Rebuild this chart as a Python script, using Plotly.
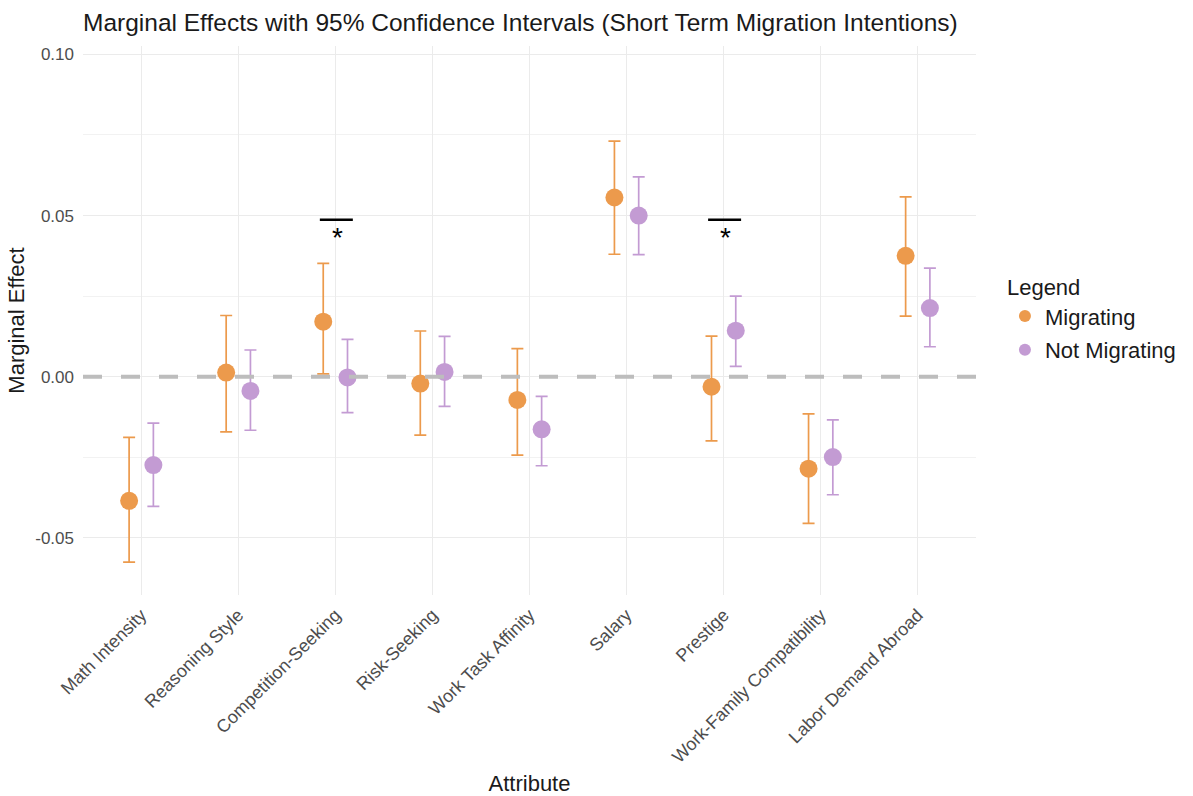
import plotly.graph_objects as go

categories = ["Math Intensity", "Reasoning Style", "Competition-Seeking", "Risk-Seeking",
              "Work Task Affinity", "Salary", "Prestige", "Work-Family Compatibility",
              "Labor Demand Abroad"]

mig_est   = [-0.0385, 0.0013, 0.0171, -0.0021, -0.0072, 0.0556, -0.0031, -0.0285, 0.0375]
mig_lower = [-0.0575, -0.0171, 0.0009, -0.0181, -0.0243, 0.0380, -0.0199, -0.0455, 0.0188]
mig_upper = [-0.0188, 0.0190, 0.0352, 0.0142, 0.0087, 0.0731, 0.0126, -0.0115, 0.0558]

not_est   = [-0.0274, -0.0044, -0.0002, 0.0015, -0.0163, 0.0500, 0.0143, -0.0249, 0.0213]
not_lower = [-0.0402, -0.0166, -0.0111, -0.0092, -0.0276, 0.0379, 0.0032, -0.0366, 0.0093]
not_upper = [-0.0144, 0.0083, 0.0116, 0.0125, -0.0061, 0.0620, 0.0250, -0.0134, 0.0337]

sig_categories = ["Competition-Seeking", "Prestige"]
sig_bar_y = 0.0487
sig_star_y = 0.0432

ORANGE = "#EC9A4C"
PURPLE = "#C39BD3"
FONT = "Liberation Sans, Arial, sans-serif"

xpos = list(range(1, len(categories) + 1))
dodge = 0.125

fig = go.Figure()

def add_series(name, est, lo, hi, color, off):
    fig.add_trace(go.Scatter(
        x=[p + off for p in xpos], y=est, mode="markers", name=name, legendgroup=name,
        marker=dict(color=color, size=18, line=dict(width=0)),
        error_y=dict(type="data", symmetric=False,
                     array=[h - e for h, e in zip(hi, est)],
                     arrayminus=[e - l for e, l in zip(est, lo)],
                     color=color, thickness=1.7, width=6),
    ))

add_series("Migrating", mig_est, mig_lower, mig_upper, ORANGE, -dodge)
add_series("Not Migrating", not_est, not_lower, not_upper, PURPLE, dodge)

# dashed zero reference line (drawn on top, as in the reference)
fig.add_shape(type="line", xref="paper", x0=0, x1=1, yref="y", y0=0, y1=0,
              line=dict(color="#BDBDBD", width=4, dash="19px,19px"), layer="above")

for c in sig_categories:
    i = categories.index(c) + 1
    fig.add_shape(type="line", xref="x", yref="y", x0=i - 0.16, x1=i + 0.18,
                  y0=sig_bar_y, y1=sig_bar_y, line=dict(color="black", width=2.5))
    fig.add_annotation(x=i + 0.02, y=sig_star_y, text="*", showarrow=False,
                       font=dict(size=28, color="black", family=FONT))

fig.update_layout(
    width=1193, height=796,
    paper_bgcolor="white", plot_bgcolor="white",
    margin=dict(l=83, r=215, t=46, b=201),
    font=dict(family=FONT, color="#1a1a1a"),
    title=dict(text="Marginal Effects with 95% Confidence Intervals (Short Term Migration Intentions)",
               x=0, xref="paper", xanchor="left", y=0.972, yanchor="middle",
               font=dict(size=24.5, color="#1a1a1a", family=FONT)),
    legend=dict(title=dict(text="Legend", font=dict(size=22, color="#1a1a1a")),
                x=1.0324, xanchor="left", y=0.598, yanchor="top",
                font=dict(size=22, color="#1a1a1a"), itemsizing="constant",
                tracegroupgap=2),
    showlegend=True,
)

fig.update_xaxes(
    range=[0.4, 9.6], tickmode="array", tickvals=xpos, ticktext=categories,
    tickangle=-45, tickfont=dict(size=18, color="#4D4D4D"),
    showgrid=True, gridcolor="#EBEBEB", gridwidth=1.3, zeroline=False,
    showline=False, ticks="", ticklabelstandoff=5, automargin=False,
    title=dict(text="Attribute", font=dict(size=22, color="#1a1a1a"), standoff=11),
)
fig.update_yaxes(
    range=[-0.0677, 0.1026], tickmode="array", tickvals=[-0.05, 0, 0.05, 0.10],
    ticktext=["-0.05", "0.00", "0.05", "0.10"],
    tickfont=dict(size=17, color="#4D4D4D"),
    showgrid=True, gridcolor="#EBEBEB", gridwidth=1.3, zeroline=False,
    showline=False, ticks="", ticklabelstandoff=8, automargin=False,
    minor=dict(tickmode="array", tickvals=[-0.025, 0.025, 0.075], showgrid=True,
               gridcolor="#F2F2F2", gridwidth=0.8),
    title=dict(text="Marginal Effect", font=dict(size=22, color="#1a1a1a"), standoff=4),
)

fig.write_html("out.html", config={"displayModeBar": False},
               post_script="document.body.style.margin='0px';")
